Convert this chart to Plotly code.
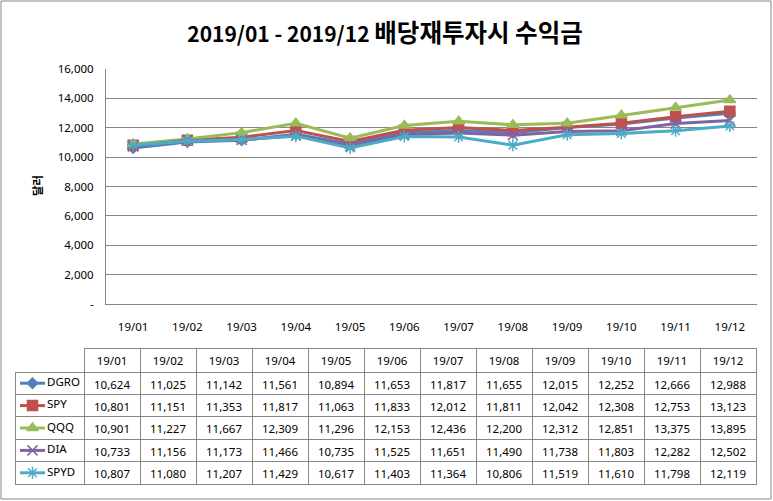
import plotly.graph_objects as go

months = ["19/01", "19/02", "19/03", "19/04", "19/05", "19/06",
          "19/07", "19/08", "19/09", "19/10", "19/11", "19/12"]
series_names = ["DGRO", "SPY", "QQQ", "DIA", "SPYD"]
DGRO = [10624, 11025, 11142, 11561, 10894, 11653, 11817, 11655, 12015, 12252, 12666, 12988]
SPY = [10801, 11151, 11353, 11817, 11063, 11833, 12012, 11811, 12042, 12308, 12753, 13123]
QQQ = [10901, 11227, 11667, 12309, 11296, 12153, 12436, 12200, 12312, 12851, 13375, 13895]
DIA = [10733, 11156, 11173, 11466, 10735, 11525, 11651, 11490, 11738, 11803, 12282, 12502]
SPYD = [10807, 11080, 11207, 11429, 10617, 11403, 11364, 10806, 11519, 11610, 11798, 12119]
y_tickvals = [0, 2000, 4000, 6000, 8000, 10000, 12000, 14000, 16000]
y_ticktext = ["-", "2,000", "4,000", "6,000", "8,000", "10,000", "12,000", "14,000", "16,000"]

data = [DGRO, SPY, QQQ, DIA, SPYD]
colors = ["#4F81BD", "#C0504D", "#9BBB59", "#8064A2", "#4BACC6"]
symbols = ["diamond", "square", "triangle-up", "x-thin-open", "asterisk-open"]
msizes = [8, 10, 10, 10, 10]

W, H = 773, 501
def px(x):
    return x / W
def py(y):
    return 1 - y / H

FONT = "Noto Sans"
GRID = "#868686"

fig = go.Figure()

for name, vals, c, s, ms in zip(series_names, data, colors, symbols, msizes):
    fig.add_trace(go.Scatter(
        x=months, y=vals, name=name, mode="lines+markers",
        line=dict(color=c, width=3),
        marker=dict(symbol=s, size=ms, color=c, line=dict(color=c, width=1.5)),
        showlegend=False, xaxis="x", yaxis="y"))

# Data table
header_vals = [""] + months
cell_vals = [[""] * len(series_names)]
for i in range(len(months)):
    cell_vals.append([f"{d[i]:,}" for d in data])

fig.add_trace(go.Table(
    domain=dict(x=[px(15), px(757)], y=[py(490), py(348)]),
    columnwidth=[69] + [56] * len(months),
    header=dict(values=header_vals, height=24,
                fill_color=["rgba(0,0,0,0)"] + ["white"] * len(months),
                line=dict(color=["rgba(0,0,0,0)"] + [GRID] * len(months), width=1),
                font=dict(family=FONT, size=11.5, color="black"),
                align="center"),
    cells=dict(values=cell_vals, height=22.4,
               fill_color=["rgba(0,0,0,0)"] + ["white"] * len(months),
               line=dict(color=GRID, width=1),
               font=dict(family=FONT, size=11.5, color="black"),
               align="center"),
))

# legend keys inside the table's first column
for i, (name, c, s, ms) in enumerate(zip(series_names, colors, symbols, msizes)):
    fig.add_trace(go.Scatter(
        x=[5, 30], y=[i, i], mode="lines", line=dict(color=c, width=3),
        showlegend=False, xaxis="x2", yaxis="y2", hoverinfo="skip"))
    fig.add_trace(go.Scatter(
        x=[17.5], y=[i], mode="markers",
        marker=dict(symbol=s, size=ms, color=c, line=dict(color=c, width=1.5)),
        showlegend=False, xaxis="x2", yaxis="y2", hoverinfo="skip"))
    fig.add_trace(go.Scatter(
        x=[32], y=[i], mode="text", text=[name], textposition="middle right",
        textfont=dict(family=FONT, size=11.5, color="black"),
        showlegend=False, xaxis="x2", yaxis="y2", hoverinfo="skip"))

fig.update_layout(
    width=W, height=H,
    margin=dict(l=0, r=0, t=0, b=0, autoexpand=False),
    paper_bgcolor="white", plot_bgcolor="white",
    font=dict(family=FONT, size=11.5, color="black"),
    title=dict(text="<b>2019/01 - 2019/12 <span style='font-size:24.5px'>배당재투자시 수익금</span></b>",
               font=dict(family="Noto Sans CJK KR", size=21, color="black"),
               x=px(385), y=py(35), xanchor="center", yanchor="middle"),
    xaxis=dict(domain=[px(106), px(757)], type="category", range=[-0.5, 11.5],
               showline=True, linecolor=GRID, linewidth=1, showgrid=False,
               ticks="", ticklabelstandoff=12, tickfont=dict(size=11.5),
               automargin=False, fixedrange=True),
    yaxis=dict(domain=[py(304), py(69)], range=[0, 16000],
               tickvals=y_tickvals, ticktext=y_ticktext,
               showline=True, linecolor=GRID, linewidth=1,
               showgrid=True, gridcolor=GRID, gridwidth=1, zeroline=False,
               ticks="", ticklabelstandoff=9, tickfont=dict(size=11.5),
               automargin=False, fixedrange=True),
    xaxis2=dict(domain=[px(15), px(84)], range=[0, 69], visible=False, fixedrange=True),
    yaxis2=dict(domain=[py(484), py(372)], range=[4.5, -0.5], visible=False, fixedrange=True),
    annotations=[dict(text="<b>달러</b>", x=px(27), y=py(186), xref="paper", yref="paper",
                      textangle=-90, showarrow=False,
                      font=dict(family="Noto Sans CJK KR", size=11.5, color="black"))],
    shapes=[dict(type="rect", xref="paper", yref="paper",
                 x0=px(1), x1=px(771), y0=py(499), y1=py(1),
                 line=dict(color=GRID, width=1), fillcolor="rgba(0,0,0,0)", layer="below")],
)

fig.write_html("out.html", config={"displayModeBar": False},
               post_script="document.body.style.margin='0';document.documentElement.style.overflow='hidden';")
